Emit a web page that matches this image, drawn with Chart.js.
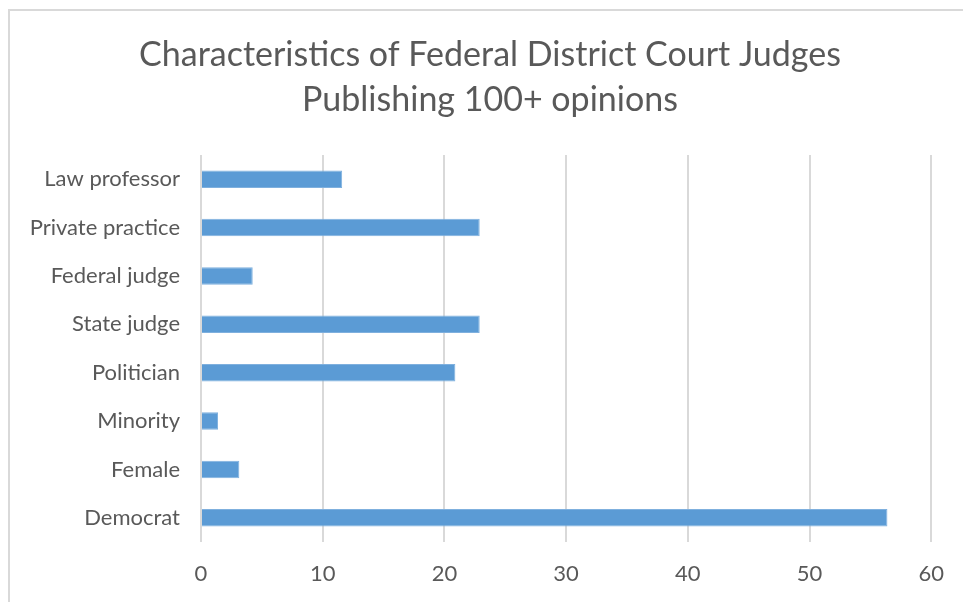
<!DOCTYPE html>
<html>
<head>
<meta charset="utf-8">
<script src="https://cdn.jsdelivr.net/npm/chart.js@4"></script>
<style>
  html, body { margin: 0; padding: 0; background: #fff; overflow: hidden; }
  #frame { position: absolute; left: 8px; top: 9px; width: 980px; height: 640px; border: 2px solid #d9d9d9; }
  canvas { position: absolute; left: 0; top: 0; }
</style>
</head>
<body>
<div id="frame"></div>
<canvas id="c" width="963" height="602"></canvas>
<script>
const categories = ["Law professor", "Private practice", "Federal judge", "State judge", "Politician", "Minority", "Female", "Democrat"];
const values = [11.6, 22.9, 4.25, 22.9, 20.9, 1.4, 3.15, 56.4];
const xTicks = [0, 10, 20, 30, 40, 50, 60];
const titleLines = ["Characteristics of Federal District Court Judges", "Publishing 100+ opinions"];

const textColor = "#595959";
const fontFamily = "Lato, 'Noto Sans', sans-serif";

// title centred on the whole frame, not on the chart box
const frameTitle = {
  id: "frameTitle",
  afterDraw(chart) {
    const ctx = chart.ctx;
    ctx.save();
    ctx.fillStyle = textColor;
    ctx.font = "34px " + fontFamily;
    ctx.textAlign = "center";
    ctx.textBaseline = "middle";
    titleLines.forEach((line, i) => ctx.fillText(line, 490, 55 + i * 45));
    ctx.restore();
  }
};

new Chart(document.getElementById("c"), {
  type: "bar",
  data: {
    labels: categories,
    datasets: [{
      data: values,
      backgroundColor: "#5b9bd5",
      borderColor: "#7fb0de",
      borderWidth: 1,
      barPercentage: 0.36,
      categoryPercentage: 1
    }]
  },
  options: {
    indexAxis: "y",
    responsive: false,
    animation: false,
    layout: { padding: { left: 0, right: 28, top: 155, bottom: 0 } },
    plugins: {
      legend: { display: false },
      tooltip: { enabled: false },
      title: { display: false }
    },
    scales: {
      x: {
        min: 0,
        max: 60,
        afterBuildTicks: axis => { axis.ticks = xTicks.map(v => ({ value: v })); },
        grid: { color: "#d9d9d9", lineWidth: 2, drawTicks: false },
        border: { display: false },
        ticks: { color: textColor, font: { family: fontFamily, size: 22 }, padding: 19 },
        afterFit: axis => { axis.height = 60; }
      },
      y: {
        grid: { display: false },
        border: { display: false },
        ticks: { color: textColor, font: { family: fontFamily, size: 22 }, padding: 13 },
        afterFit: axis => { axis.width = 201; }
      }
    }
  },
  plugins: [frameTitle]
});
</script>
</body>
</html>
